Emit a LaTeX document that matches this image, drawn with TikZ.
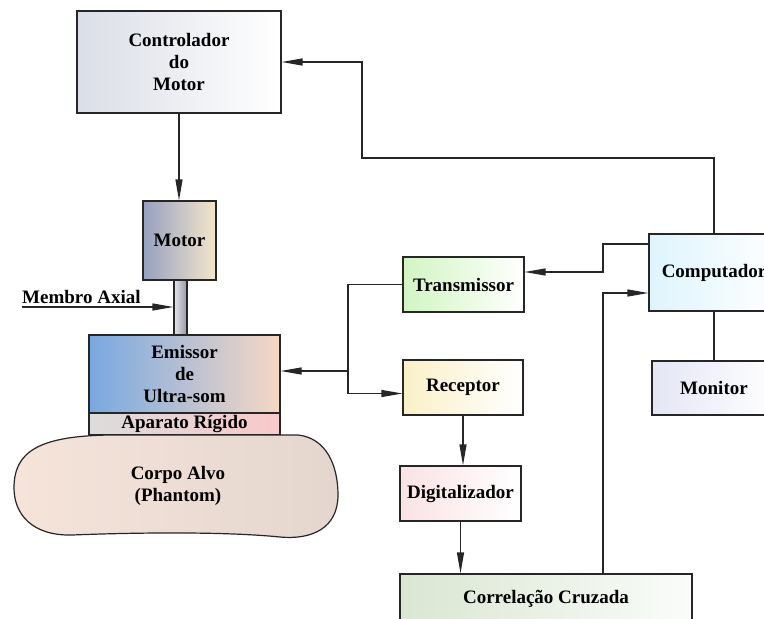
\documentclass[tikz,border=0pt]{standalone}
\usepackage{fontspec}
\newfontfamily\boxfont{LiberationSerif-Bold.ttf}
\usetikzlibrary{arrows.meta}

\definecolor{ctrlL}{RGB}{218,222,230}
\definecolor{motorL}{RGB}{150,160,192}
\definecolor{motorM}{RGB}{202,202,202}
\definecolor{motorR}{RGB}{244,230,202}
\definecolor{shaftL}{RGB}{228,228,236}
\definecolor{shaftR}{RGB}{150,150,166}
\definecolor{emitL}{RGB}{120,168,225}
\definecolor{emitM}{RGB}{200,200,215}
\definecolor{emitR}{RGB}{246,216,196}
\definecolor{aparL}{RGB}{220,220,220}
\definecolor{aparR}{RGB}{250,200,202}
\definecolor{bodyL}{RGB}{246,228,218}
\definecolor{bodyR}{RGB}{228,214,206}
\definecolor{txL}{RGB}{210,245,195}
\definecolor{rxL}{RGB}{250,240,200}
\definecolor{digL}{RGB}{250,226,228}
\definecolor{corrL}{RGB}{218,230,210}
\definecolor{corrR}{RGB}{250,252,250}
\definecolor{compL}{RGB}{222,244,253}
\definecolor{monL}{RGB}{228,230,245}

\tikzset{
  blk/.style={draw=black!85, line width=1.2pt, inner sep=0pt, align=center,
    font=\boxfont\fontsize{19}{22}\selectfont},
  wire/.style={draw=black!85, line width=1.2pt},
  arr/.style={wire, -{Triangle[length=21pt,width=7pt]}},
  lbl/.style={inner sep=0pt, font=\boxfont\fontsize{19}{22}\selectfont},
}

\begin{document}
\begin{tikzpicture}[x=1pt, y=-1pt]
\useasboundingbox (0,0) rectangle (764,619);
\clip (0,0) rectangle (764,619);

% control chain
\node[blk, minimum width=204pt, minimum height=102pt, left color=ctrlL, right color=white]
  (ctrl) at (179,62) {Controlador\\do\\Motor};
\node[blk, minimum width=73pt, minimum height=79pt, left color=motorL, middle color=motorM, right color=motorR]
  (motor) at (179.5,240.5) {Motor};
\node[blk, minimum width=13pt, minimum height=55pt, left color=shaftL, right color=shaftR]
  (shaft) at (180.5,307.5) {};
\node[blk, minimum width=191pt, minimum height=78pt, left color=emitL, middle color=emitM, right color=emitR]
  (emit) at (184.5,374) {Emissor\\de\\Ultra-som};
\node[blk, minimum width=191pt, minimum height=22pt, left color=aparL, right color=aparR]
  (apar) at (184.5,424) {Aparato Rígido};

% target body
\path[draw=black!85, line width=1.2pt, left color=bodyL, right color=bodyR]
  (14,488) .. controls (14,452) and (38,436) .. (110,435)
  -- (298,435) .. controls (326,438) and (338,465) .. (338,495)
  .. controls (338,528) and (312,540) .. (280,537)
  .. controls (230,532) and (150,532) .. (72,535)
  .. controls (32,536) and (14,514) .. (14,488) -- cycle;
\node[lbl, align=center] (body) at (178,486) {Corpo Alvo\\ (Phantom)};

% signal chain
\node[blk, minimum width=121pt, minimum height=55pt, left color=txL, right color=white]
  (tx) at (463.5,284.5) {Transmissor};
\node[blk, minimum width=120pt, minimum height=55pt, left color=rxL, right color=white]
  (rx) at (463,387.5) {Receptor};
\node[blk, minimum width=121pt, minimum height=55pt, left color=digL, right color=white]
  (dig) at (460.5,493.5) {Digitalizador};
\node[blk, minimum width=292pt, minimum height=50pt, left color=corrL, right color=corrR]
  (corr) at (546,599) {Correlação Cruzada};
\node[blk, minimum width=130pt, minimum height=77pt, left color=compL, right color=white]
  (comp) at (714,272.5) {Computador};
\node[blk, minimum width=124pt, minimum height=54pt, left color=monL, right color=white]
  (mon) at (714,388) {Monitor};

% label of the axial member
\node[lbl, anchor=base west] (axlbl) at (22,303) {Membro Axial};
\coordinate (axstart) at (22,307);

% routing points
\coordinate (k1) at (362,158);
\coordinate (j) at (348,371);
\coordinate (k2) at (603,244);
\coordinate (k3) at (603,272);
\coordinate (k4) at (603,293);

% connectors
\draw[arr] (comp.north) |- (k1) |- (ctrl.east);
\draw[arr] (ctrl.south) -- (ctrl.south |- motor.north);
\draw[arr] (axstart) -- (axstart -| shaft.west);
\draw[wire] (tx.west) -| (j);
\draw[arr] (j) |- ([yshift=-6pt]rx.west);
\draw[arr] (j) -- (j -| emit.east);
\draw[arr] (k2 -| comp.west) -- (k2) -- (k3) -- (k3 -| tx.east);
\draw[arr] (corr.north -| k4) -- (k4) -- (k4 -| comp.west);
\draw[wire] (comp.south) -- (mon.north);
\draw[arr] (rx.south) -- (rx.south |- dig.north);
\draw[arr] (dig.south) -- (dig.south |- corr.north);
\end{tikzpicture}
\end{document}
